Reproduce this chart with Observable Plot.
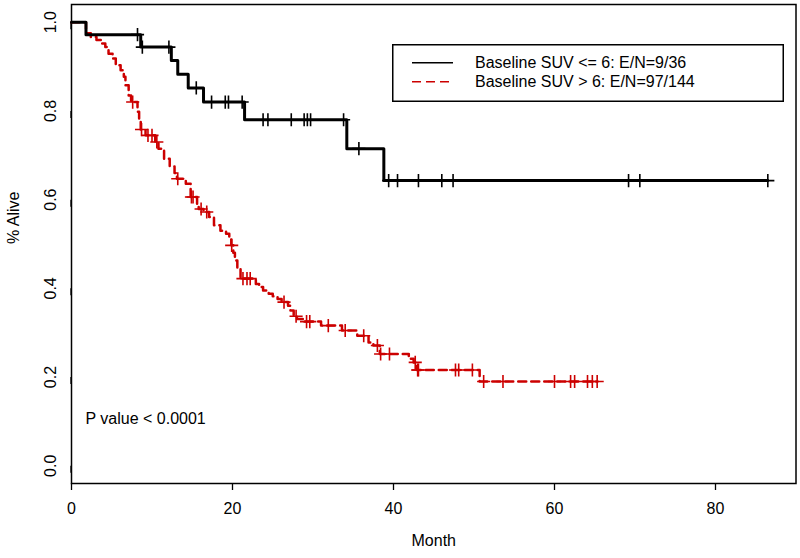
<!DOCTYPE html>
<html><head><meta charset="utf-8">
<script src="https://cdn.jsdelivr.net/npm/d3@7"></script>
<script src="https://cdn.jsdelivr.net/npm/@observablehq/plot@0.6"></script>
<style>
body{margin:0;background:#fff;font-family:"Liberation Sans",Arial,Helvetica,sans-serif;}
#wrap{position:relative;width:800px;height:558px;}
#legend{position:absolute;left:392px;top:44px;}
</style>
</head><body><div id="wrap"></div>
<script>
// Baseline SUV <= 6 (black)
const lowTimes = [0, 1.8, 8.6, 12.4, 13.2, 14.5, 16.4, 21.5, 34.2, 38.8, 86.5];
const lowSurv  = [1, 0.972, 0.944, 0.914, 0.883, 0.852, 0.820, 0.780, 0.715, 0.643, 0.643];
const lowCensor = [8.2, 8.8, 12.1, 15.5, 17.4, 19.1, 19.5, 21.2, 23.8, 24.4, 27.3, 28.9, 29.3, 29.7, 33.8, 35.7, 39.4, 40.5, 43.1, 46.0, 47.4, 69.2, 70.6, 86.5];

// Baseline SUV > 6 (red)
const highTimes = [0, 1.8, 2.4, 3.1, 3.8, 4.2, 4.6, 5.1, 5.5, 6.1, 6.5, 6.7, 7.1, 7.4, 8.2, 8.4, 8.6, 9.2, 10.4, 10.8, 11.5, 12.2, 12.8, 13.1, 14.2, 14.8, 15.6, 15.8, 16.4, 17.1, 17.7, 18.5, 19.2, 19.6, 19.85, 20.1, 20.3, 20.6, 21.0, 22.9, 23.3, 23.8, 24.5, 25.0, 25.6, 26.1, 26.9, 27.2, 27.6, 28.0, 28.8, 31.0, 33.6, 35.5, 36.9, 37.5, 38.3, 41.9, 42.5, 42.9, 50.7, 65.3];
const highSurv  = [1, 0.975, 0.967, 0.960, 0.952, 0.944, 0.929, 0.918, 0.903, 0.892, 0.877, 0.858, 0.835, 0.820, 0.798, 0.775, 0.758, 0.745, 0.730, 0.715, 0.692, 0.675, 0.660, 0.647, 0.636, 0.606, 0.590, 0.579, 0.572, 0.561, 0.542, 0.530, 0.523, 0.510, 0.497, 0.480, 0.463, 0.444, 0.422, 0.410, 0.403, 0.395, 0.388, 0.382, 0.376, 0.369, 0.361, 0.350, 0.337, 0.331, 0.325, 0.316, 0.305, 0.293, 0.278, 0.271, 0.252, 0.241, 0.233, 0.216, 0.190, 0.190];
const highCensor = [7.6, 8.7, 9.5, 10.0, 10.6, 13.2, 14.9, 15.1, 16.1, 16.8, 19.9, 21.3, 21.8, 22.2, 26.4, 27.9, 29.2, 29.6, 31.9, 34.0, 36.3, 38.0, 38.4, 39.5, 42.7, 43.0, 43.1, 47.7, 48.1, 49.8, 51.2, 53.6, 60.0, 62.0, 62.5, 64.1, 64.7, 65.3];

const seriesNames = ["Baseline SUV <= 6: E/N=9/36", "Baseline SUV > 6: E/N=97/144"];
const seriesColors = ["#000000", "#cc0000"];
const xTicks = [0, 20, 40, 60, 80];
const yTicks = [0, 0.2, 0.4, 0.6, 0.8, 1.0];
const pText = "P value < 0.0001";
const xLabel = "Month";
const yLabel = "% Alive";

const survAt = (times, surv, t) => { let s = surv[0]; for (let i = 0; i < times.length; i++) if (times[i] <= t) s = surv[i]; return s; };
const lowCurve = lowTimes.map((t, i) => ({t, s: lowSurv[i]}));
const highCurve = highTimes.map((t, i) => ({t, s: highSurv[i]}));
const lowCens = lowCensor.map(t => ({t, s: survAt(lowTimes, lowSurv, t)}));
const highCens = highCensor.map(t => ({t, s: survAt(highTimes, highSurv, t)}));

const font = '"Liberation Sans", Arial, Helvetica, sans-serif';
const plot = Plot.plot({
  width: 800, height: 558,
  marginLeft: 71, marginRight: 4.5, marginTop: 4, marginBottom: 75,
  style: {fontFamily: font, fontSize: "16px", background: "white", color: "black"},
  x: {domain: [0, 90]},
  y: {domain: [-0.04, 1.04]},
  marks: [
    Plot.frame({stroke: "black", strokeWidth: 1.5}),
    Plot.axisX({ticks: xTicks, tickSize: 7, tickPadding: 12, label: null, tickFormat: d => String(d), strokeWidth: 1.3, fontSize: 16}),
    Plot.axisY({ticks: yTicks, tickSize: 7, tickPadding: 14, label: null, tickFormat: d => d.toFixed(1), rotate: -90, textAnchor: "middle", strokeWidth: 1.3, fontSize: 16}),
    Plot.text([yLabel], {frameAnchor: "left", dx: -58, rotate: -90, fontSize: 16}),
    Plot.text([xLabel], {frameAnchor: "bottom", dy: 62, fontSize: 16}),
    Plot.text([pText], {frameAnchor: "bottom-left", dx: 14, dy: -60, textAnchor: "start", fontSize: 16}),
    Plot.line(highCurve, {x: "t", y: "s", curve: "step-after", stroke: seriesColors[1], strokeWidth: 2.5, strokeDasharray: "8,5"}),
    Plot.dot(highCens, {x: "t", y: "s", symbol: "plus", r: 4.3, stroke: seriesColors[1], strokeWidth: 1.6}),
    Plot.line(lowCurve, {x: "t", y: "s", curve: "step-after", stroke: seriesColors[0], strokeWidth: 3}),
    Plot.dot(lowCens, {x: "t", y: "s", symbol: "plus", r: 4.3, stroke: seriesColors[0], strokeWidth: 1.6})
  ]
});
const wrap = document.getElementById("wrap");
wrap.appendChild(plot);

// legend
const ns = "http://www.w3.org/2000/svg";
const lg = document.createElementNS(ns, "svg");
lg.setAttribute("id", "legend");
lg.setAttribute("width", 392); lg.setAttribute("height", 58);
lg.style.position = "absolute"; lg.style.left = "392px"; lg.style.top = "44px";
const box = document.createElementNS(ns, "rect");
box.setAttribute("x", 0.75); box.setAttribute("y", 0.75); box.setAttribute("width", 390.5); box.setAttribute("height", 56.5);
box.setAttribute("fill", "white"); box.setAttribute("stroke", "black"); box.setAttribute("stroke-width", 1.5);
lg.appendChild(box);
seriesNames.forEach((name, i) => {
  const yy = 18.7 + i * 19;
  const ln = document.createElementNS(ns, "line");
  ln.setAttribute("x1", 20); ln.setAttribute("x2", 61); ln.setAttribute("y1", yy); ln.setAttribute("y2", yy);
  ln.setAttribute("stroke", seriesColors[i]); ln.setAttribute("stroke-width", 1.5);
  if (i === 1) ln.setAttribute("stroke-dasharray", "9,5");
  lg.appendChild(ln);
  const tx = document.createElementNS(ns, "text");
  tx.setAttribute("x", 83); tx.setAttribute("y", yy); tx.setAttribute("dy", "0.35em");
  tx.setAttribute("font-family", font); tx.setAttribute("font-size", 16);
  tx.textContent = name;
  lg.appendChild(tx);
});
wrap.appendChild(lg);
</script>
</body></html>
